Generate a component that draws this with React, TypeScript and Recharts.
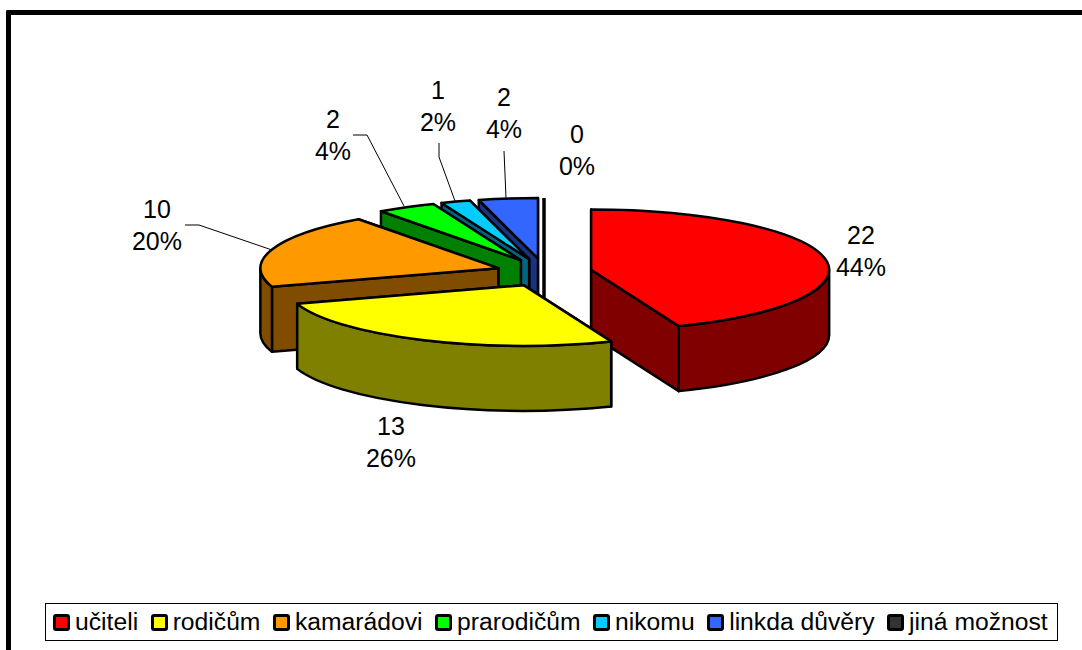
import { PieChart, Pie, Legend } from "recharts";

const categories = ["učiteli", "rodičům", "kamarádovi", "prarodičům", "nikomu", "linkda důvěry", "jiná možnost"];
const counts = [22, 13, 10, 2, 1, 2, 0];
const colors = ["#FF0000", "#FFFF00", "#FF9900", "#00FF00", "#00CCFF", "#3366FF", "#333333"];

// hand placed labels + leader lines, per category (Excel style)
const labelSpots = [
  { x: 861, y: 236, lead: null },
  { x: 391, y: 427, lead: null },
  { x: 157, y: 210, lead: "185,225 199,225 272,250" },
  { x: 333, y: 120, lead: "353,135 367,135 404,206" },
  { x: 438, y: 91, lead: "439,143 439,157 455,201" },
  { x: 504, y: 98, lead: "504,151 506,198" },
  { x: 577, y: 135, lead: null },
];

const FONT = "'Liberation Sans', Arial, sans-serif";
const LABEL_SIZE = 25;
const LEGEND_SIZE = 24.7;
const CENTER_X = 544;
const CENTER_Y = 272.5;
const RADIUS_X = 238;
const SQUASH = 60.5 / 238; // tilt of the 3d pie
const DEPTH = 65;
const EXPLODE_X = 48;
const EXPLODE_Y = 14;

// pie runs counter clockwise from the end of "učiteli", so the paint order is back to front
const drawOrder = [0, 6, 5, 4, 3, 2, 1];
const tableData = drawOrder.map((i) => ({
  name: categories[i],
  value: counts[i],
  fill: colors[i],
  idx: i,
}));
const firstAngle = 90 - (counts[0] / counts.reduce((a, b) => a + b, 0)) * 360;

const rad = (deg: number) => (deg * Math.PI) / 180;

const halfColor = (hex: string) => {
  const n = parseInt(hex.slice(1), 16);
  const part = (v: number) => Math.round(v / 2).toString(16).padStart(2, "0");
  return `#${part((n >> 16) & 255)}${part((n >> 8) & 255)}${part(n & 255)}`;
};

function Slice3D(props: any) {
  const { cx, cy, outerRadius, startAngle, endAngle, fill } = props;
  const rx = outerRadius;
  const ry = outerRadius * SQUASH;
  const mid = rad((startAngle + endAngle) / 2);
  const ax = cx + EXPLODE_X * Math.cos(mid);
  const ay = cy - EXPLODE_Y * Math.sin(mid);
  const pt = (deg: number) => [ax + rx * Math.cos(rad(deg)), ay - ry * Math.sin(rad(deg))];
  const [x1, y1] = pt(startAngle);
  const [x2, y2] = pt(endAngle);
  const dark = halfColor(fill);
  const large = endAngle - startAngle > 180 ? 1 : 0;

  const radial = (x: number, y: number) =>
    `M${ax},${ay} L${x},${y} L${x},${y + DEPTH} L${ax},${ay + DEPTH} Z`;
  const walls = [
    { y: y1, d: radial(x1, y1) },
    { y: y2, d: radial(x2, y2) },
  ].sort((a, b) => a.y - b.y);

  // the rounded outside wall only shows on the front half
  const fronts: string[] = [];
  for (const [lo, hi] of [[-180, 0], [180, 360]]) {
    const a = Math.max(startAngle, lo);
    const b = Math.min(endAngle, hi);
    if (b > a) {
      const [px, py] = pt(a);
      const [qx, qy] = pt(b);
      fronts.push(
        `M${px},${py} A${rx},${ry} 0 0 0 ${qx},${qy} L${qx},${qy + DEPTH} A${rx},${ry} 0 0 1 ${px},${py + DEPTH} Z`
      );
    }
  }

  const line = { stroke: "#000", strokeWidth: 2.5, strokeLinejoin: "round" as const };
  if (endAngle - startAngle === 0) {
    return <path d={radial(x1, y1)} fill={dark} stroke="#000" strokeWidth={3.5} />;
  }
  return (
    <g>
      {walls.map((w, i) => (
        <path key={i} d={w.d} fill={dark} {...line} />
      ))}
      {fronts.map((d, i) => (
        <path key={i} d={d} fill={dark} {...line} />
      ))}
      <path
        d={`M${ax},${ay} L${x1},${y1} A${rx},${ry} 0 ${large} 0 ${x2},${y2} Z`}
        fill={fill}
        {...line}
      />
    </g>
  );
}

function SliceLabel(props: any) {
  const { payload, value, percent } = props;
  const spot = labelSpots[payload.idx];
  return (
    <g>
      {spot.lead && <polyline points={spot.lead} fill="none" stroke="#000" strokeWidth={1} />}
      <text x={spot.x} y={spot.y + 8} textAnchor="middle" fontFamily={FONT} fontSize={LABEL_SIZE} fill="#000">
        {value}
      </text>
      <text x={spot.x} y={spot.y + 40} textAnchor="middle" fontFamily={FONT} fontSize={LABEL_SIZE} fill="#000">
        {`${Math.round(percent * 100)}%`}
      </text>
    </g>
  );
}

function LegendBox() {
  return (
    <div
      style={{
        display: "flex",
        alignItems: "center",
        height: 38,
        width: 1013,
        boxSizing: "border-box",
        border: "1px solid #000",
        background: "#fff",
        paddingLeft: 7,
        fontFamily: FONT,
        fontSize: LEGEND_SIZE,
        whiteSpace: "nowrap",
      }}
    >
      {categories.map((name, i) => (
        <span key={name} style={{ display: "flex", alignItems: "center", marginRight: 12.5 }}>
          <span
            style={{
              width: 17,
              height: 17,
              boxSizing: "border-box",
              border: "3px solid #000",
              background: colors[i],
              borderRadius: 3,
              marginRight: 5,
            }}
          />
          {name}
        </span>
      ))}
    </div>
  );
}

export default function App() {
  return (
    <div style={{ position: "absolute", left: 0, top: 0, width: 1082, height: 650, overflow: "hidden", background: "#fff" }}>
      <div
        style={{
          position: "absolute",
          left: 6,
          top: 10,
          width: 1200,
          height: 800,
          borderLeft: "5px solid #000",
          borderTop: "5px solid #000",
          borderTopLeftRadius: 2,
        }}
      />
      <PieChart
        width={1082}
        height={650}
        margin={{ top: 0, right: 0, bottom: 0, left: 0 }}
        style={{ position: "absolute", left: 0, top: 0 }}
      >
        <Pie
          data={tableData}
          dataKey="value"
          cx={CENTER_X}
          cy={CENTER_Y}
          outerRadius={RADIUS_X}
          innerRadius={0}
          startAngle={firstAngle}
          endAngle={firstAngle + 360}
          stroke="#000"
          shape={Slice3D}
          label={SliceLabel}
          labelLine={false}
          isAnimationActive={false}
        />
        <Legend
          content={() => <LegendBox />}
          wrapperStyle={{ position: "absolute", left: 45, top: 603, width: 1013, bottom: "auto" }}
        />
      </PieChart>
    </div>
  );
}
